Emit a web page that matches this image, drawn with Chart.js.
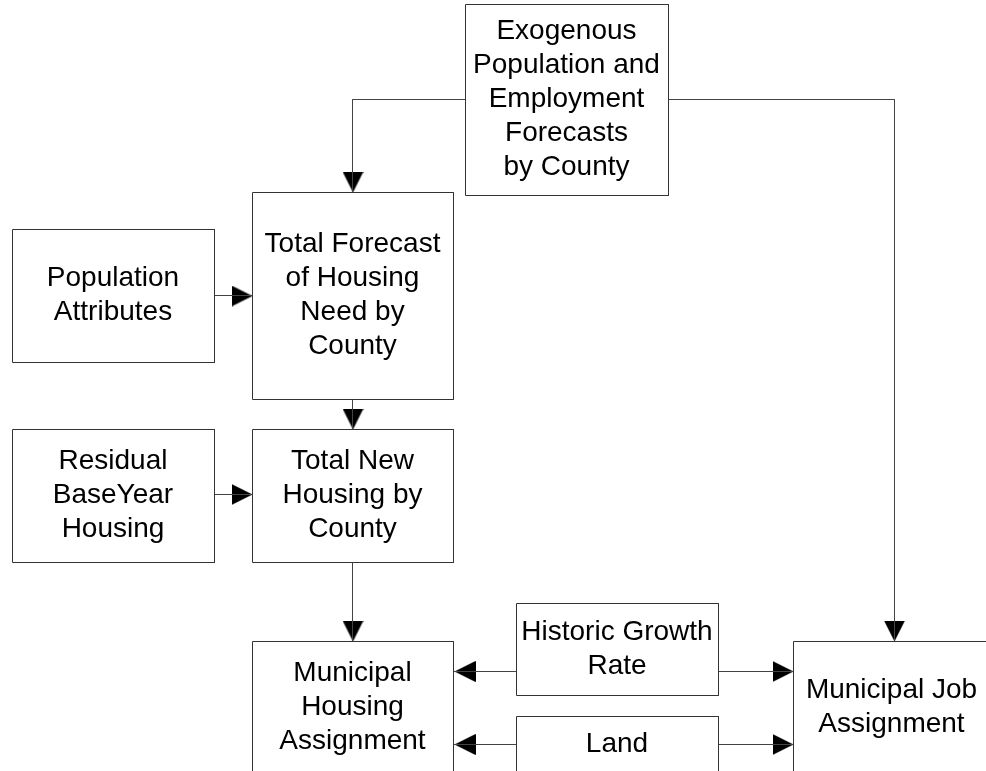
<!DOCTYPE html>
<html>
<head>
<meta charset="utf-8">
<script src="https://cdn.jsdelivr.net/npm/chart.js@4/dist/chart.umd.min.js"></script>
<style>
  body { margin: 0; background: #fff; }
  #wrap { width: 986px; height: 771px; position: relative; }
</style>
</head>
<body>
<div id="wrap"><canvas id="flow"></canvas></div>
<script>
// boxes of the flow diagram
const nodeLabels = [
  ['Exogenous', 'Population and', 'Employment', 'Forecasts', 'by County'],
  ['Population', 'Attributes'],
  ['Total Forecast', 'of Housing', 'Need by', 'County'],
  ['Residual', 'BaseYear', 'Housing'],
  ['Total New', 'Housing by', 'County'],
  ['Municipal', 'Housing', 'Assignment'],
  ['Historic Growth', 'Rate'],
  ['Land'],
  ['Municipal Job', 'Assignment']
];
const nodeLeft   = [465, 12, 252, 12, 252, 252, 516, 516, 793];
const nodeRight  = [668, 214, 453, 214, 453, 453, 718, 718, 990];
const nodeTop    = [4, 229, 192, 429, 429, 641, 603, 716, 641];
const nodeBottom = [195, 362, 399, 562, 562, 773, 695, 772, 773];

// connectors: from box, to box, route (+ optional level)
const links = [
  { from: 0, to: 2, route: 'left-down' },
  { from: 0, to: 8, route: 'right-down', x: 894 },
  { from: 1, to: 2, route: 'right' },
  { from: 2, to: 4, route: 'down' },
  { from: 3, to: 4, route: 'right', y: 494 },
  { from: 4, to: 5, route: 'down' },
  { from: 6, to: 5, route: 'left', y: 671 },
  { from: 6, to: 8, route: 'right', y: 671 },
  { from: 7, to: 5, route: 'left' },
  { from: 7, to: 8, route: 'right' }
];

const snap = v => Math.floor(v) + 0.5;
const cx = i => (nodeLeft[i] + nodeRight[i]) / 2;
const cy = i => (nodeTop[i] + nodeBottom[i]) / 2;

function routePoints(l) {
  const f = l.from, t = l.to;
  if (l.route === 'right') {
    const y = l.y ?? cy(f);
    return { pts: [[nodeRight[f], y], [nodeLeft[t], y]], dir: 90 };
  }
  if (l.route === 'left') {
    const y = l.y ?? cy(f);
    return { pts: [[nodeLeft[f], y], [nodeRight[t], y]], dir: 270 };
  }
  if (l.route === 'down') {
    const x = l.x ?? cx(t);
    return { pts: [[x, nodeBottom[f]], [x, nodeTop[t]]], dir: 180 };
  }
  const y = l.y ?? cy(f);
  const x = l.x ?? cx(t);
  const sx = l.route === 'left-down' ? nodeLeft[f] : nodeRight[f];
  return { pts: [[sx, y], [x, y], [x, nodeTop[t]]], dir: 180 };
}

// arrowhead image, pointing up
const head = document.createElement('canvas');
head.width = 21; head.height = 21;
const hc = head.getContext('2d');
hc.fillStyle = '#000';
hc.beginPath();
hc.moveTo(10.5, 0); hc.lineTo(21, 21); hc.lineTo(0, 21); hc.closePath();
hc.fill();

const datasets = [];
nodeLabels.forEach((_, i) => {
  const L = snap(nodeLeft[i]), R = snap(nodeRight[i]), T = snap(nodeTop[i]), B = snap(nodeBottom[i]);
  datasets.push({
    data: [{x: L, y: T}, {x: R, y: T}, {x: R, y: B}, {x: L, y: B}, {x: L, y: T}],
    showLine: true, borderColor: '#333', borderWidth: 1, pointRadius: 0, fill: false
  });
});

const heads = [], headRot = [];
links.forEach(l => {
  const r = routePoints(l);
  datasets.push({
    data: r.pts.map(p => ({x: snap(p[0]), y: snap(p[1])})),
    showLine: true, borderColor: '#444', borderWidth: 1, pointRadius: 0, fill: false
  });
  const tip = r.pts[r.pts.length - 1];
  const off = 10.5;
  let hx = tip[0] + 0.5, hy = tip[1] + 0.5;
  if (r.dir === 90) hx -= off;
  if (r.dir === 270) hx += off + 1;
  if (r.dir === 180) hy -= off;
  heads.push({x: hx, y: hy});
  headRot.push(r.dir);
});
datasets.push({
  data: heads, showLine: false, pointStyle: head, pointRadius: 10, rotation: headRot
});

const boxText = {
  id: 'boxText',
  afterDatasetsDraw(chart) {
    const ctx = chart.ctx, xs = chart.scales.x, ys = chart.scales.y;
    const lh = 34;
    ctx.save();
    ctx.font = '28px "Liberation Sans", Arial, sans-serif';
    ctx.fillStyle = '#000';
    ctx.textAlign = 'center';
    ctx.textBaseline = 'middle';
    nodeLabels.forEach((lines, i) => {
      const px = xs.getPixelForValue(cx(i));
      const py = ys.getPixelForValue(cy(i));
      const y0 = py - (lines.length - 1) * lh / 2;
      lines.forEach((t, k) => ctx.fillText(t, px, y0 + k * lh));
    });
    ctx.restore();
  }
};

new Chart(document.getElementById('flow'), {
  type: 'scatter',
  data: { datasets },
  options: {
    responsive: true,
    maintainAspectRatio: false,
    animation: false,
    events: [],
    layout: { padding: 0, autoPadding: false },
    scales: {
      x: { type: 'linear', min: 0, max: 986, display: false },
      y: { type: 'linear', min: 0, max: 771, reverse: true, display: false }
    },
    plugins: { legend: { display: false }, tooltip: { enabled: false } }
  },
  plugins: [boxText]
});
</script>
</body>
</html>
